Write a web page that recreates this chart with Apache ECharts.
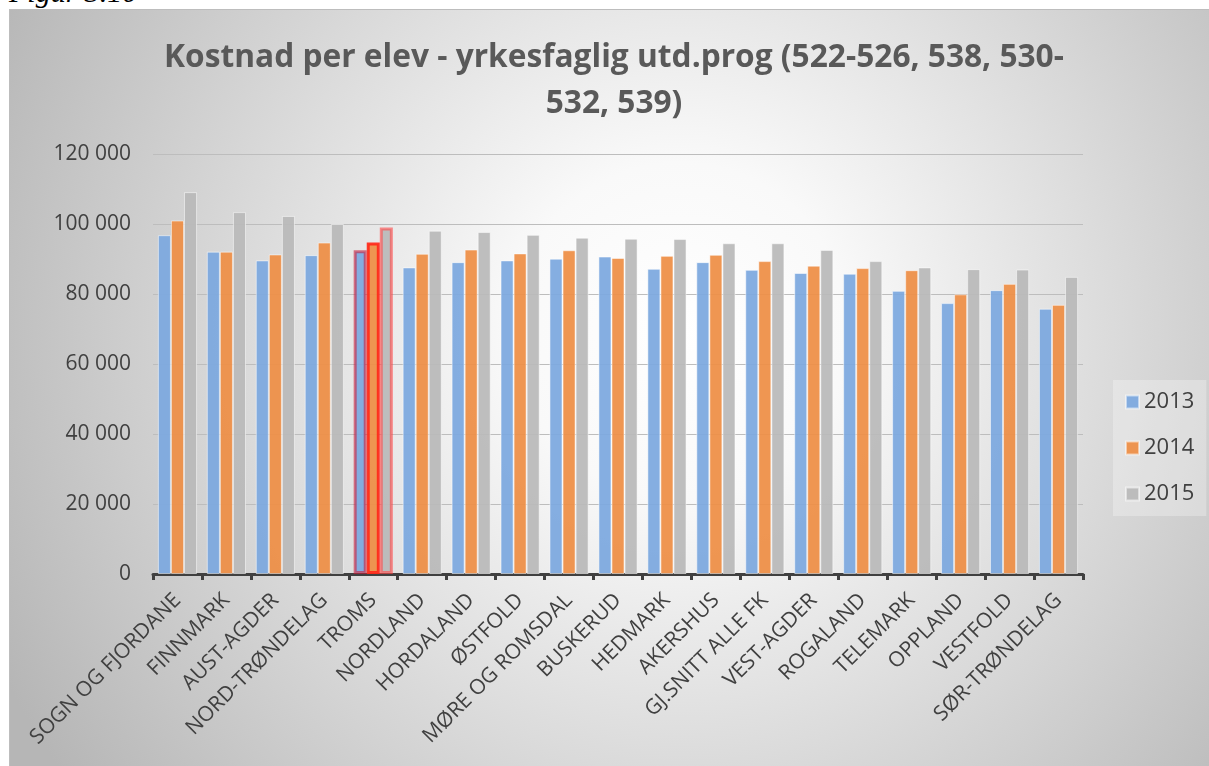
<!DOCTYPE html>
<html>
<head>
<meta charset="utf-8">
<script src="https://cdn.jsdelivr.net/npm/echarts@6/dist/echarts.min.js"></script>
<style>
  html, body { margin: 0; padding: 0; background: #ffffff; width: 1209px; height: 766px; overflow: hidden; }
  #frame {
    position: absolute; left: 9px; top: 9px; width: 1240px; height: 800px;
    box-sizing: border-box; border: 1px solid #bdbdbd;
    background: radial-gradient(circle 760px at 670px 320px, #ffffff 0%, #f9f9f9 22%, #b6b6b6 100%);
  }
  #main { position: absolute; left: 0; top: 0; width: 1209px; height: 766px; }
  #fig { position: absolute; left: 9px; top: -25px; font-family: "Liberation Serif", serif; font-style: italic; font-size: 30px; line-height: 34px; color: #000; }
</style>
</head>
<body>
<div id="frame"></div>
<div id="fig">Figur 3.10</div>
<div id="main"></div>
<script>
const titleText = "Kostnad per elev - yrkesfaglig utd.prog (522-526, 538, 530-\n532, 539)";
const categories = ["SOGN OG FJORDANE","FINNMARK","AUST-AGDER","NORD-TRØNDELAG","TROMS","NORDLAND","HORDALAND","ØSTFOLD","MØRE OG ROMSDAL","BUSKERUD","HEDMARK","AKERSHUS","GJ.SNITT ALLE FK","VEST-AGDER","ROGALAND","TELEMARK","OPPLAND","VESTFOLD","SØR-TRØNDELAG"];
const seriesNames = ["2013","2014","2015"];
const values2013 = [96800, 92100, 89600, 91100, 92500, 87600, 89100, 89600, 90100, 90700, 87200, 89100, 86900, 86000, 85800, 80900, 77400, 81100, 75800];
const values2014 = [101000, 92100, 91300, 94700, 94700, 91500, 92700, 91600, 92500, 90300, 90900, 91200, 89400, 88100, 87400, 86800, 79900, 82900, 76900];
const values2015 = [109100, 103400, 102300, 100000, 99000, 98100, 97700, 96900, 96100, 95800, 95700, 94500, 94500, 92600, 89400, 87600, 87100, 87000, 84900];
const yTicks = [0, 20000, 40000, 60000, 80000, 100000, 120000];
const highlightCategory = "TROMS";

const colors = ["#7ca8df", "#ee8e45", "#b9b9b9"];
const highlightBorders = ["rgba(200,30,60,0.65)", "#ff2a1a", "rgba(255,70,70,0.65)"];
const allValues = [values2013, values2014, values2015];

function fmt(v) { return String(v).replace(/\B(?=(\d{3})+(?!\d))/g, " "); }

const chart = echarts.init(document.getElementById('main'), null, { renderer: 'canvas' });
const font = '"Open Sans", sans-serif';

const series = seriesNames.map((name, s) => ({
  name: name,
  type: 'bar',
  barGap: '0%',
  barCategoryGap: '20%',
  itemStyle: { color: colors[s], opacity: 0.93, borderColor: 'rgba(255,255,255,0.55)', borderWidth: 1 },
  data: allValues[s].map((v, i) => categories[i] === highlightCategory
    ? { value: v, itemStyle: { borderColor: highlightBorders[s], borderWidth: 3 } }
    : v)
}));

chart.setOption({
  backgroundColor: 'transparent',
  animation: false,
  textStyle: { fontFamily: font },
  title: {
    text: titleText,
    left: 614,
    textAlign: 'center',
    top: 35,
    padding: 0,
    textStyle: { fontFamily: font, fontSize: 31.7, fontWeight: 'bold', color: '#595959', lineHeight: 46 }
  },
  legend: {
    data: seriesNames,
    orient: 'vertical',
    left: 1113,
    top: 380,
    padding: [11, 12, 11, 12],
    itemGap: 24,
    itemWidth: 13,
    itemHeight: 13,
    icon: 'rect',
    backgroundColor: 'rgba(255,255,255,0.28)',
    textStyle: { fontFamily: font, fontSize: 22, color: '#404040' }
  },
  grid: { left: 153, right: 126, top: 154, bottom: 192, containLabel: false },
  xAxis: {
    type: 'category',
    data: categories,
    axisLine: { show: true, lineStyle: { color: '#404040', width: 3 } },
    axisTick: { show: true, length: 6, lineStyle: { color: '#404040', width: 3 } },
    axisLabel: { rotate: 45, margin: 23, interval: 0, fontFamily: font, fontSize: 21, color: '#404040' }
  },
  yAxis: {
    type: 'value',
    min: yTicks[0],
    max: yTicks[yTicks.length - 1],
    interval: yTicks[1] - yTicks[0],
    axisLine: { show: false },
    axisTick: { show: false },
    axisLabel: { margin: 22, fontFamily: font, fontSize: 21, color: '#404040', formatter: fmt },
    splitLine: { show: true, lineStyle: { color: '#bdbdbd', width: 1 } }
  },
  series: series
});
</script>
</body>
</html>
